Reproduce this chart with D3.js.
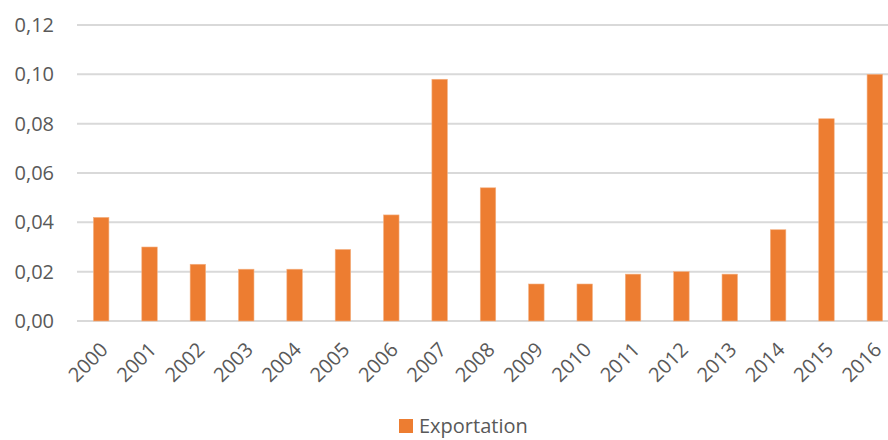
<!DOCTYPE html>
<html>
<head>
<meta charset="utf-8">
<script src="https://cdn.jsdelivr.net/npm/d3@7"></script>
<style>
  body { margin: 0; background: #fff; }
  svg { display: block; font-family: "Open Sans", sans-serif; }
</style>
</head>
<body>
<div id="chart"></div>
<script>
// donnees
var years = ["2000","2001","2002","2003","2004","2005","2006","2007","2008",
             "2009","2010","2011","2012","2013","2014","2015","2016"];
var exportation = [0.042, 0.030, 0.023, 0.021, 0.021, 0.029, 0.043, 0.098, 0.054,
                   0.015, 0.015, 0.019, 0.020, 0.019, 0.037, 0.082, 0.100];
var yTicks = [0, 0.02, 0.04, 0.06, 0.08, 0.10, 0.12];
var seriesName = "Exportation";

var W = 888, H = 440;
var margin = {top: 25, left: 77, bottom: 321, right: 899};
var BAR_COLOR = "#ED7D31";

var svg = d3.select("#chart").append("svg")
    .attr("width", W)
    .attr("height", H);

var x = d3.scaleBand()
    .domain(years)
    .range([margin.left, margin.right])
    .paddingInner(0.68)
    .paddingOuter(0.34);

var y = d3.scaleLinear()
    .domain([0, 0.12])
    .range([margin.bottom, margin.top]);

var fmt = function(v) { return d3.format(".2f")(v).replace(".", ","); };

// grille horizontale
svg.append("g").attr("class", "grid")
    .selectAll("line")
    .data(yTicks)
    .enter().append("line")
    .attr("x1", margin.left)
    .attr("x2", margin.right)
    .attr("y1", function(d) { return y(d); })
    .attr("y2", function(d) { return y(d); })
    .attr("stroke", "#d9d9d9")
    .attr("stroke-width", 2);

// axe y (labels seulement)
var yAxis = d3.axisLeft(y).tickValues(yTicks).tickFormat(fmt).tickSize(0).tickPadding(0);
var gy = svg.append("g")
    .attr("transform", "translate(54,0)")
    .call(yAxis);
gy.select(".domain").remove();
gy.selectAll("text")
    .attr("fill", "#595959")
    .style("font-size", "20px")
    .style("font-family", "'Open Sans', sans-serif");

// barres
svg.append("g").attr("class", "bars")
    .selectAll("rect")
    .data(exportation)
    .enter().append("rect")
    .attr("x", function(d, i) { return x(years[i]); })
    .attr("y", function(d) { return y(d); })
    .attr("width", x.bandwidth())
    .attr("height", function(d) { return y(0) - y(d); })
    .attr("fill", BAR_COLOR)
    .attr("stroke", "#f4b183")
    .attr("stroke-width", 0.6);

// axe x, labels a -45 degres
var xAxis = d3.axisBottom(x).tickSize(0).tickPadding(0);
var gx = svg.append("g")
    .attr("transform", "translate(0," + margin.bottom + ")")
    .call(xAxis);
gx.select(".domain").remove();
gx.selectAll("text")
    .attr("fill", "#595959")
    .style("font-size", "20px")
    .style("font-family", "'Open Sans', sans-serif")
    .style("text-anchor", "end")
    .attr("dy", null)
    .attr("y", 0)
    .attr("transform", "translate(8,30) rotate(-45)");

// legende
var legend = svg.append("g").attr("transform", "translate(399,419)");
legend.append("rect")
    .attr("width", 14).attr("height", 14)
    .attr("fill", BAR_COLOR);
legend.append("text")
    .attr("x", 20).attr("y", 14)
    .attr("fill", "#595959")
    .style("font-size", "20px")
    .text(seriesName);
</script>
</body>
</html>
